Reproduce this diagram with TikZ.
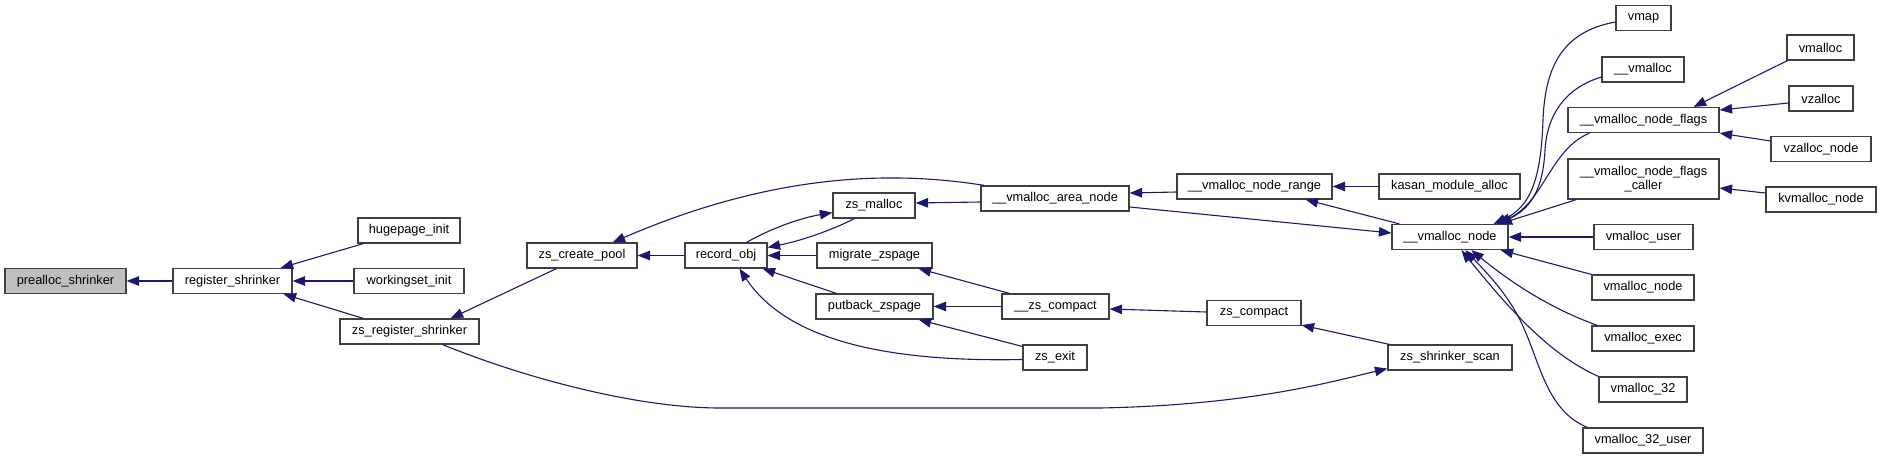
\documentclass[tikz,border=0pt]{standalone}
\usepackage{fontspec}
\setmainfont{Liberation Sans}
\usetikzlibrary{arrows.meta}
\definecolor{edgec}{HTML}{191970}
\definecolor{boxc}{HTML}{404040}
\definecolor{grayfill}{HTML}{BFBFBF}
\begin{document}
\begin{tikzpicture}[x=1pt,y=-1pt,
  box/.style={draw=boxc, line width=1.2pt, fill=white, inner sep=0pt, minimum height=25pt, font=\fontsize{12.8}{14.5}\selectfont, align=center},
  e/.style={draw=edgec, line width=1.1pt, -{Triangle[length=12.5pt,width=9.5pt]}}]
\useasboundingbox (0,0) rectangle (1881,459);
% nodes
\node[box, minimum width=121pt, fill=grayfill] (ps) at (65.5,281) {prealloc\_shrinker};
\node[box, minimum width=119pt] (rs) at (232.5,281) {register\_shrinker};
\node[box, minimum width=102pt] (hi) at (409,230.5) {hugepage\_init};
\node[box, minimum width=110pt] (wi) at (409,281) {workingset\_init};
\node[box, minimum width=139pt] (zrs) at (409.5,331.5) {zs\_register\_shrinker};
\node[box, minimum width=110pt] (zcp) at (582,255.5) {zs\_create\_pool};
\node[box, minimum width=82pt] (ro) at (726,255.5) {record\_obj};
\node[box, minimum width=82pt] (zm) at (874,205.5) {zs\_malloc};
\node[box, minimum width=115pt] (mz) at (874.5,255.5) {migrate\_zspage};
\node[box, minimum width=117pt] (pz) at (874.5,306.5) {putback\_zspage};
\node[box, minimum width=148pt] (van) at (1055,198.5) {\_\_vmalloc\_area\_node};
\node[box, minimum width=107pt] (zsc) at (1055.5,306.5) {\_\_zs\_compact};
\node[box, minimum width=64pt] (ze) at (1055,357.5) {zs\_exit};
\node[box, minimum width=155pt] (vnr) at (1254.5,186.5) {\_\_vmalloc\_node\_range};
\node[box, minimum width=94pt] (zc) at (1254,313) {zs\_compact};
\node[box, minimum width=141pt] (kma) at (1449.5,186.5) {kasan\_module\_alloc};
\node[box, minimum width=116pt] (vn) at (1450,237) {\_\_vmalloc\_node};
\node[box, minimum width=124pt] (zss) at (1450,357.5) {zs\_shrinker\_scan};
\node[box, minimum width=55pt] (vmap) at (1643.5,18) {vmap};
\node[box, minimum width=82pt] (uvm) at (1643,69.5) {\_\_vmalloc};
\node[box, minimum width=151pt] (vnf) at (1643.5,120) {\_\_vmalloc\_node\_flags};
\node[box, minimum width=151pt, minimum height=40pt] (vnfc) at (1643.5,179) {\_\_vmalloc\_node\_flags\\\_caller};
\node[box, minimum width=99pt] (vu) at (1643.5,237) {vmalloc\_user};
\node[box, minimum width=102pt] (vnd) at (1643,287.5) {vmalloc\_node};
\node[box, minimum width=102pt] (vex) at (1643,338.5) {vmalloc\_exec};
\node[box, minimum width=88pt] (v32) at (1643,389.5) {vmalloc\_32};
\node[box, minimum width=120pt] (v32u) at (1643,440.5) {vmalloc\_32\_user};
\node[box, minimum width=67pt] (vml) at (1820.5,47.5) {vmalloc};
\node[box, minimum width=64pt] (vz) at (1821,98.5) {vzalloc};
\node[box, minimum width=100pt] (vzn) at (1821,149) {vzalloc\_node};
\node[box, minimum width=110pt] (kvn) at (1821,199.5) {kvmalloc\_node};
% edges
\draw[e] (rs.west) -- (ps.east);
\draw[e] ([xshift=6pt]hi.south west) -- ([xshift=-12pt]rs.north east);
\draw[e] (wi.west) -- (rs.east);
\draw[e] ([xshift=24pt]zrs.north west) -- ([xshift=-9pt]rs.south east);
\draw[e] ([xshift=30pt]zcp.south west) -- ([xshift=-29pt]zrs.north east);
\draw[e] ([xshift=-37pt]zrs.south east) .. controls (530,380) and (640,408) .. (720,408) -- (1100,408) .. controls (1250,405) and (1330,382) .. ([yshift=2pt]zss.south west);
\draw[e] (ro.west) -- (zcp.east);
\draw[e] ([xshift=4pt]van.north west) .. controls (900,172) and (780,170) .. ([xshift=-25pt]zcp.north east);
\draw[e] ([xshift=22pt]zm.south west) .. controls (830,231) and (800,241) .. ([yshift=-5pt]ro.north east);
\draw[e] ([xshift=62pt]ro.north west) .. controls (770,229) and (800,218) .. ([yshift=6pt]zm.south west);
\draw[e] ([yshift=-3.5pt]van.west) -- ([yshift=2.5pt]zm.east);
\draw[e] (mz.west) -- (ro.east);
\draw[e] ([xshift=21pt]pz.north west) -- ([xshift=-5pt]ro.south east);
\draw[e] ([yshift=-2pt]ze.west) .. controls (900,362) and (790,345) .. ([xshift=55pt]ro.south west);
\draw[e] ([xshift=8pt]zsc.north west) -- ([xshift=-14pt]mz.south east);
\draw[e] (zsc.west) -- (pz.east);
\draw[e] ([yshift=-2pt]ze.north west) -- ([xshift=-15pt]pz.south east);
\draw[e] ([yshift=-5.5pt]vnr.west) -- ([yshift=5.5pt]van.east);
\draw[e] ([yshift=-8.5pt]van.east) -- ([yshift=4pt]vn.west);
\draw[e] ([yshift=1pt]zc.west) -- ([yshift=-2.5pt]zsc.east);
\draw[e] (kma.west) -- (vnr.east);
\draw[e] ([xshift=8pt]vn.north west) -- ([xshift=-27pt]vnr.south east);
\draw[e] ([xshift=2pt]zss.north west) -- ([yshift=1pt]zc.south east);
\draw[e] ([yshift=-4pt]vmap.west) .. controls (1560,32) and (1545,70) .. (1543,120) .. controls (1541,180) and (1530,207) .. ([xshift=-15pt]vn.north east);
\draw[e] ([yshift=-7.5pt]uvm.west) .. controls (1565,88) and (1547,115) .. (1545,150) .. controls (1543,190) and (1530,210) .. ([xshift=-12pt]vn.north east);
\draw[e] ([xshift=22pt]vnf.south west) .. controls (1550,150) and (1545,200) .. ([xshift=-10pt]vn.north east);
\draw[e] ([xshift=9pt]vnfc.south west) -- ([xshift=-9pt]vn.north east);
\draw[e] (vu.west) -- (vn.east);
\draw[e] (vnd.north west) -- ([xshift=-8pt]vn.south east);
\draw[e] ([xshift=6pt]vex.north west) .. controls (1560,312) and (1520,290) .. ([xshift=80pt]vn.south west);
\draw[e] (v32.north west) .. controls (1550,355) and (1510,310) .. ([xshift=70pt]vn.south west);
\draw[e] ([xshift=5pt]v32u.north west) .. controls (1545,410) and (1540,360) .. (1520,320) .. controls (1505,290) and (1482,268) .. ([xshift=74pt]vn.south west);
\draw[e] ([xshift=1pt]vml.south west) -- ([xshift=-26pt]vnf.north east);
\draw[e] ([yshift=-4.5pt]vz.west) -- ([yshift=10pt]vnf.east);
\draw[e] ([yshift=8pt]vzn.west) -- (vnf.south east);
\draw[e] ([yshift=6.5pt]kvn.west) -- ([yshift=-9pt]vnfc.east);
\end{tikzpicture}
\end{document}
